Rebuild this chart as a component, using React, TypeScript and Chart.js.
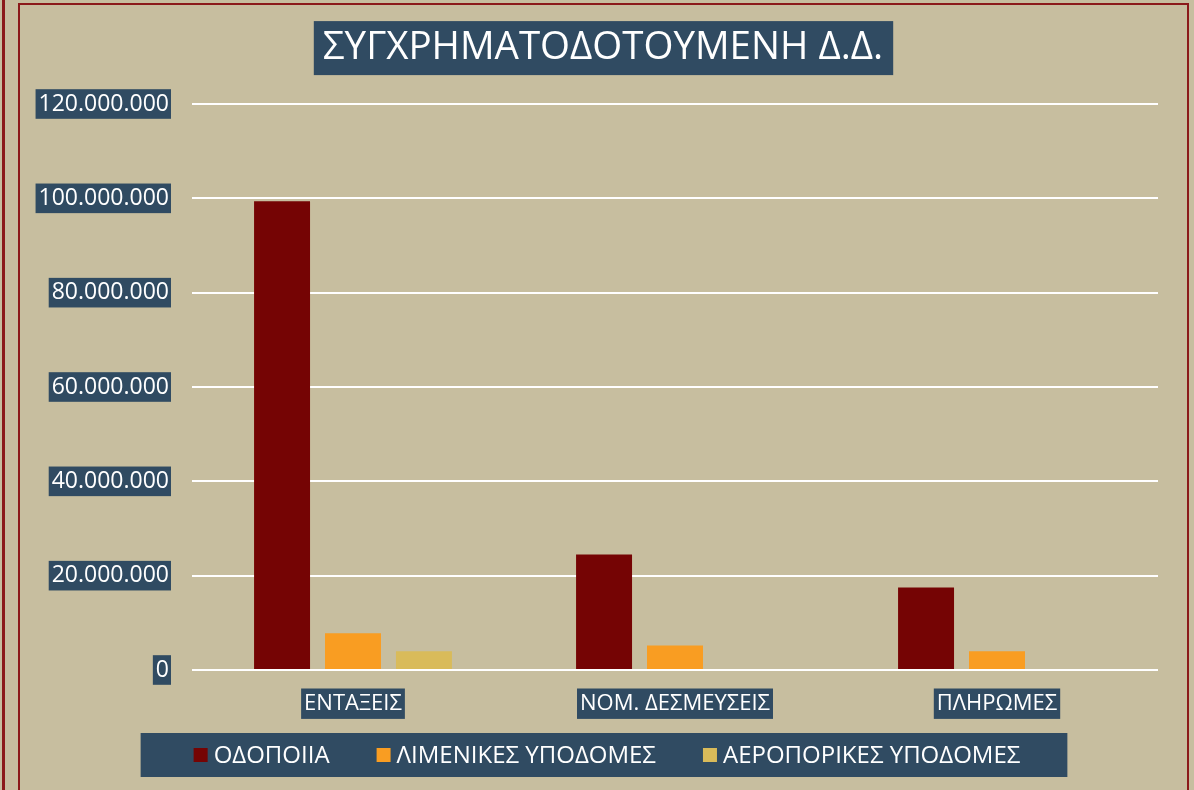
import React, { useEffect, useRef } from "react";
import { Chart, registerables } from "chart.js";

Chart.register(...registerables);

const TITLE = "ΣΥΓΧΡΗΜΑΤΟΔΟΤΟΥΜΕΝΗ Δ.Δ.";
const categories = ["ΕΝΤΑΞΕΙΣ", "ΝΟΜ. ΔΕΣΜΕΥΣΕΙΣ", "ΠΛΗΡΩΜΕΣ"];
const seriesNames = ["ΟΔΟΠΟΙΙΑ", "ΛΙΜΕΝΙΚΕΣ ΥΠΟΔΟΜΕΣ", "ΑΕΡΟΠΟΡΙΚΕΣ ΥΠΟΔΟΜΕΣ"];
const odopoiia = [99400000, 24500000, 17500000];
const limenikes = [7800000, 5200000, 4000000];
const aeroporikes = [4000000, 0, 0];
const yMin = 0;
const yMax = 120000000;
const yStep = 20000000;

const FONT = "'Open Sans', 'DejaVu Sans', sans-serif";
const BG = "#C7BE9F";
const BOX = "#304B62";
const RED_LINE = "#8B1A1A";
const COLORS = ["#750404", "#F99D22", "#D9BB5A"];
const TITLE_SIZE = 38.5;
const TITLE_PAD_TOP = 19;
const LEGEND_SIZE = 24;

const fmt = (v: number) =>
  String(Math.round(v)).replace(/\B(?=(\d{3})+(?!\d))/g, ".");

const backdropPlugin = {
  id: "backdrops",
  beforeDraw(chart: any) {
    const ctx = chart.ctx;
    ctx.save();
    ctx.fillStyle = BOX;
    const t = chart.titleBlock;
    if (t) {
      ctx.font = `normal ${TITLE_SIZE}px ${FONT}`;
      const w = ctx.measureText(TITLE).width;
      const cx = (t.left + t.right) / 2;
      const cy = t.top + TITLE_PAD_TOP + (TITLE_SIZE * 1.2) / 2;
      ctx.fillRect(cx - w / 2 - 9, cy - 27, w + 19, 54);
    }
    ctx.restore();
  },
  afterDraw(chart: any) {
    const ctx = chart.ctx;
    const ds = chart.data.datasets;
    ctx.save();
    ctx.font = `normal ${LEGEND_SIZE}px ${FONT}`;
    const box = 14;
    const gapText = 6;
    const gapItem = 47;
    const widths = ds.map((d: any) => ctx.measureText(d.label).width);
    let total = 0;
    widths.forEach((w: number, i: number) => {
      total += box + gapText + w + (i < widths.length - 1 ? gapItem : 0);
    });
    const cx = chart.width / 2 + 4;
    let x = cx - total / 2;
    const top = chart.chartArea.bottom + 63;
    const h = 44;
    const cy = top + h / 2;
    ctx.fillStyle = BOX;
    ctx.fillRect(x - 53, top, total + 53 + 47, h);
    ctx.textBaseline = "middle";
    ctx.textAlign = "left";
    ds.forEach((d: any, i: number) => {
      ctx.fillStyle = d.backgroundColor;
      ctx.fillRect(x, cy - box / 2, box, box);
      x += box + gapText;
      ctx.fillStyle = "#FFFFFF";
      ctx.fillText(d.label, x, cy + 1);
      x += widths[i] + gapItem;
    });
    ctx.restore();
  },
};

export default function App() {
  const ref = useRef<HTMLCanvasElement | null>(null);

  useEffect(() => {
    if (!ref.current) return;
    const chart = new Chart(ref.current, {
      type: "bar",
      data: {
        labels: categories,
        datasets: [
          { label: seriesNames[0], data: odopoiia, backgroundColor: COLORS[0], borderWidth: 0 },
          { label: seriesNames[1], data: limenikes, backgroundColor: COLORS[1], borderWidth: 0 },
          { label: seriesNames[2], data: aeroporikes, backgroundColor: COLORS[2], borderWidth: 0 },
        ],
      },
      options: {
        animation: false,
        responsive: false,
        devicePixelRatio: 1,
        layout: { padding: { left: 0, right: 0, top: 0, bottom: 68 } },
        datasets: {
          bar: { categoryPercentage: 0.661, barPercentage: 0.789 },
        },
        plugins: {
          title: {
            display: true,
            text: TITLE,
            color: "#FFFFFF",
            font: { family: FONT, size: TITLE_SIZE, weight: "normal", lineHeight: 1.2 },
            padding: { top: TITLE_PAD_TOP, bottom: 32.8 },
          },
          legend: { display: false },
          tooltip: { enabled: false },
        },
        scales: {
          x: {
            grid: { display: false, drawTicks: false },
            border: { display: false },
            ticks: {
              color: "#FFFFFF",
              font: { family: FONT, size: 22, weight: "normal" },
              padding: 20.5,
              showLabelBackdrop: true,
              backdropColor: BOX,
              backdropPadding: { top: 2, bottom: 2, left: 3, right: 3 },
            },
            afterFit: (s: any) => {
              s.height = 52;
            },
          },
          y: {
            min: yMin,
            max: yMax,
            grid: { color: "#FFFFFF", lineWidth: 2, drawTicks: false },
            border: { display: false },
            ticks: {
              stepSize: yStep,
              color: "#FFFFFF",
              font: { family: FONT, size: 23, weight: "normal" },
              padding: 23,
              showLabelBackdrop: true,
              backdropColor: BOX,
              backdropPadding: { top: 1, bottom: 1, left: 3, right: 2 },
              callback: (v: any) => fmt(Number(v)),
            },
            afterFit: (s: any) => {
              s.width = 171;
            },
          },
          yRight: {
            type: "linear",
            position: "right",
            min: yMin,
            max: yMax,
            grid: { display: false, drawTicks: false },
            border: { display: false },
            ticks: { display: false },
            afterFit: (s: any) => {
              s.width = 27;
            },
          },
        },
      } as any,
      plugins: [backdropPlugin],
    });
    return () => chart.destroy();
  }, []);

  return (
    <div
      style={{
        position: "fixed",
        left: 0,
        top: 0,
        width: 1194,
        height: 790,
        background: BG,
        overflow: "hidden",
      }}
    >
      <div
        style={{
          position: "absolute",
          left: 2,
          top: 0,
          width: 3,
          height: 790,
          background: RED_LINE,
        }}
      />
      <div
        style={{
          position: "absolute",
          left: 18,
          top: 3,
          width: 1167,
          height: 800,
          border: `2px solid ${RED_LINE}`,
        }}
      />
      <canvas
        ref={ref}
        width={1164}
        height={784}
        style={{ position: "absolute", left: 21, top: 6, width: 1164, height: 784 }}
      />
    </div>
  );
}
